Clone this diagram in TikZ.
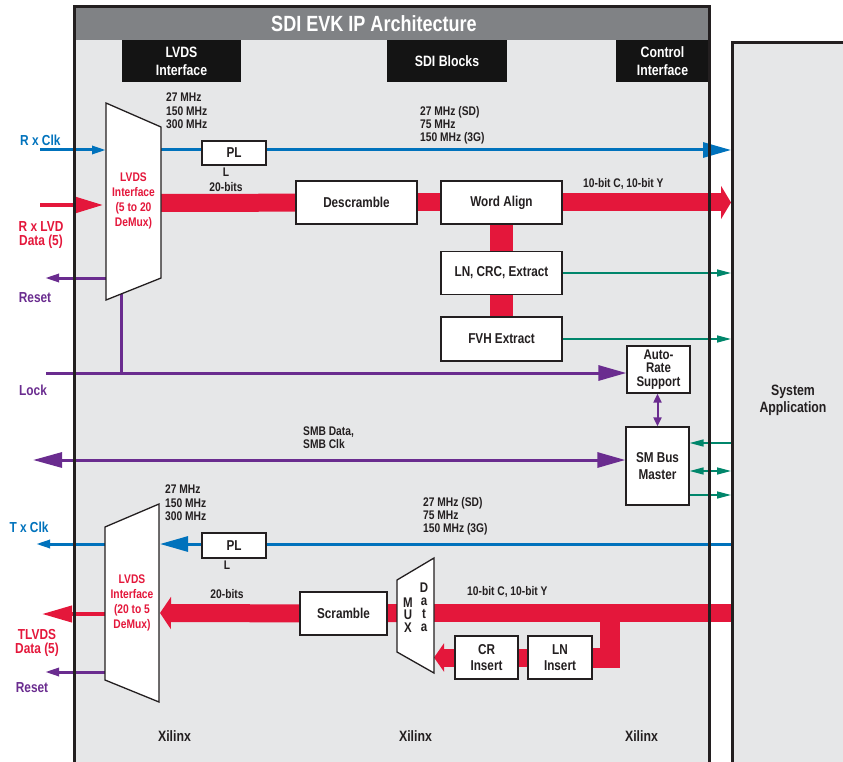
\documentclass[tikz,border=0pt]{standalone}
\usepackage{fontspec}
\setmainfont{Liberation Sans}[FakeStretch=0.82]
\usepackage{xcolor}
\definecolor{sdiblue}{HTML}{0072BC}
\definecolor{sdired}{HTML}{E4173B}
\definecolor{sdipurple}{HTML}{6A2C8F}
\definecolor{sdigreen}{HTML}{00866B}
\definecolor{sdigray}{HTML}{808285}
\definecolor{sdibody}{HTML}{E6E7E8}
\definecolor{sdiink}{HTML}{231F20}
\usetikzlibrary{arrows.meta}
\pgfdeclarelayer{back}
\pgfdeclarelayer{wires}
\pgfsetlayers{back,wires,main}
\newcommand\sdisize[2]{\fontsize{#1}{#2}\selectfont}

\begin{document}
\begin{tikzpicture}[x=1pt, y=-1pt,
    box/.style={draw=sdiink, line width=1.3pt, fill=white, text=sdiink, align=center, inner sep=0pt, minimum width=121pt, minimum height=43pt, font=\bfseries\sdisize{14.3}{16.7}},
    trap/.style={draw=sdiink, line width=1.3pt, fill=white},
    tab/.style={fill=black!92, text=white, align=center, inner sep=0pt, minimum height=42pt, font=\bfseries\sdisize{15}{17.7}},
    lbl/.style={text=sdiink, align=left, inner sep=0pt, font=\bfseries\sdisize{12.5}{13.3}},
    side/.style={align=center, inner sep=0pt, font=\bfseries\sdisize{14.5}{13.5}},
    stack/.style={text=sdiink, align=center, inner sep=0pt, font=\bfseries\sdisize{14}{#1}},
    xil/.style={text=sdiink, font=\bfseries\sdisize{15}{17}},
    clk/.style={sdiblue, line width=3pt},
    bus/.style={sdired, line width=18pt, line join=miter},
    wire/.style={sdired, line width=4pt},
    ctl/.style={sdipurple, line width=3pt},
    sig/.style={sdigreen, line width=1.5pt},
    tipsmall/.style={-{Triangle[length=14pt,width=8pt]}},
    tipbig/.style={-{Triangle[length=28pt,width=15pt]}},
    tipsig/.style={-{Triangle[length=14pt,width=7pt]}}
]
\useasboundingbox (0,0) rectangle (843,762);
\clip (0,0) rectangle (843,762);

\begin{pgfonlayer}{back}
\fill[sdibody] (74,7) rectangle (709,800);
\fill[sdigray] (74,7) rectangle (709,40);
\end{pgfonlayer}
\node[text=white, font=\bfseries\sdisize{22}{24}] (title) at (374,24) {SDI EVK IP Architecture};
\node[tab, minimum width=119pt] (tab-lvds) at (181.5,61) {LVDS\\Interface};
\node[tab, minimum width=120pt] (tab-sdi) at (447,61) {SDI Blocks};
\node[tab, minimum width=93pt] (tab-ctl) at (662.5,61) {Control\\Interface};

\node[draw=sdiink, line width=3pt, fill=sdibody, minimum width=200pt, minimum height=800pt, anchor=north west] (sysapp) at (731,41) {};
\node[text=sdiink, align=center, font=\bfseries\sdisize{15}{16.7}] (sysapp-text) at (793,400) {System\\Application};

\draw[trap] (106,103) -- (161,127) -- (161,278) -- (106,300) -- cycle;
\node[text=sdired, align=center, font=\bfseries\sdisize{12.5}{15}] (rxif) at (133.5,201) {LVDS\\Interface\\(5 to 20\\DeMux)};
\coordinate (rx-clk) at (106,150);
\coordinate (rx-clkout) at (161,150);
\coordinate (rx-data) at (103,205);
\coordinate (rx-out) at (161,203);
\coordinate (rx-rst) at (106,278);
\coordinate (rx-lock) at (121,294);

\draw[trap] (105,527) -- (159,504) -- (159,702) -- (105,680) -- cycle;
\node[text=sdired, align=center, font=\bfseries\sdisize{12.5}{15}] (txif) at (132,603) {LVDS\\Interface\\(20 to 5\\DeMux)};
\coordinate (tx-clk) at (160,544);
\coordinate (tx-clkout) at (105,544);
\coordinate (tx-in) at (160,613);
\coordinate (tx-data) at (105,614);
\coordinate (tx-rst) at (105,672);

\draw[trap] (397,580) -- (434,558) -- (434,673) -- (397,652) -- cycle;
\node[stack=12.5] (mux) at (408,615) {M\\U\\X};
\node[stack=13] (muxdata) at (424,607) {D\\a\\t\\a};
\coordinate (mux-e) at (434,613);
\coordinate (mux-w) at (397,613);

\coordinate (rxclk-src) at (40,150);
\coordinate (rxdata-src) at (40,205);
\coordinate (rst-dst) at (45,278);
\coordinate (lock-src) at (46,373);
\coordinate (smb-end) at (33,460);
\coordinate (txclk-dst) at (36,544);
\coordinate (txdata-dst) at (42,614);
\coordinate (txrst-dst) at (45,672);
\coordinate (tap) at (610,613);

\node[box, minimum width=64pt, minimum height=24pt] (plrx) at (234,153) {PL};
\node[box] (descr) at (356.5,202.5) {Descramble};
\node[box] (walign) at (501.5,202.5) {Word Align};
\node[box] (lncrc) at (501.5,273) {LN, CRC, Extract};
\node[box, minimum height=44pt] (fvh) at (501.5,339) {FVH Extract};
\node[box, minimum width=63pt, minimum height=47pt, font=\bfseries\sdisize{14}{13.5}] (autorate) at (658.5,369.5) {Auto-\\Rate\\Support};
\node[box, minimum width=63pt, minimum height=78pt] (smbus) at (657.5,466) {SM Bus\\Master};
\node[box, minimum width=64pt, minimum height=25pt] (pltx) at (234,545.5) {PL};
\node[box, minimum width=87pt] (scramble) at (343.5,613.5) {Scramble};
\node[box, minimum width=63pt] (crins) at (486.5,657.5) {CR\\Insert};
\node[box, minimum width=64pt] (lnins) at (560,657.5) {LN\\Insert};

\begin{pgfonlayer}{wires}
\draw[clk, tipsmall] (rxclk-src) -- (rx-clk);
\draw[clk] (rx-clkout) -- (plrx.west |- rx-clk);
\draw[clk, tipbig] (plrx.east |- rx-clk) -- (sysapp.west |- rx-clk);
\draw[wire, -{Triangle[length=30pt,width=17pt]}] (rxdata-src) -- (rx-data);
\draw[bus] (rx-out) -- (descr);
\draw[bus] (descr) -- (walign);
\draw[bus, -{Triangle[length=10pt,width=33pt]}] (walign) -- (walign -| sysapp.west);
\draw[bus, line width=23pt] (walign) -- (lncrc);
\draw[bus, line width=23pt] (lncrc) -- (fvh);
\draw[sig, tipsig] (lncrc) -- (lncrc -| sysapp.west);
\draw[sig, tipsig] (fvh) -- (fvh -| sysapp.west);
\draw[ctl, tipsmall] (rx-rst) -- (rst-dst);
\draw[ctl] (rx-lock) -- (rx-lock |- lock-src);
\draw[ctl, tipbig] (lock-src) -- (lock-src -| autorate.west);
\draw[ctl, {Triangle[length=29pt,width=15pt]}-{Triangle[length=28pt,width=15pt]}] (smb-end) -- (smb-end -| smbus.west);
\draw[sdipurple, line width=2pt, {Triangle[length=9pt,width=8pt]}-{Triangle[length=9pt,width=8pt]}] (smbus.north |- autorate.south) -- (smbus.north);
\draw[sig, tipsig] ([yshift=23pt]smbus.east -| sysapp.west) -- ([yshift=23pt]smbus.east);
\draw[sig, {Triangle[length=14pt,width=7pt]}-{Triangle[length=14pt,width=7pt]}] ([yshift=-5pt]smbus.east) -- ([yshift=-5pt]smbus.east -| sysapp.west);
\draw[sig, tipsig] ([yshift=-29pt]smbus.east) -- ([yshift=-29pt]smbus.east -| sysapp.west);

\draw[clk] (sysapp.west |- tx-clk) -- (pltx.east |- tx-clk);
\draw[clk, tipbig] (pltx.west |- tx-clk) -- (tx-clk);
\draw[clk, tipsmall] (tx-clkout) -- (txclk-dst);
\draw[bus] (sysapp.west |- mux-e) -- (mux-e);
\draw[bus] (mux-w) -- (scramble);
\draw[bus, -{Triangle[length=11pt,width=32pt]}] (scramble) -- (tx-in);
\draw[wire, -{Triangle[length=30pt,width=16pt]}] (tx-data) -- (txdata-dst);
\draw[ctl, tipsmall] (tx-rst) -- (txrst-dst);
\draw[bus, line width=20pt] (tap) |- (lnins);
\draw[bus] (lnins) -- (crins);
\draw[bus, -{Triangle[length=10pt,width=28pt]}] (crins) -- (crins -| mux-e);
\end{pgfonlayer}

\node[side, text=sdiblue, anchor=west] (lbl-rxclk) at (20,140) {R x Clk};
\node[side, text=sdired] (lbl-rxdata) at (41,235) {R x LVD\\Data (5)};
\node[side, text=sdipurple] (lbl-rst1) at (35,298) {Reset};
\node[side, text=sdipurple] (lbl-lock) at (33,390) {Lock};
\node[side, text=sdiblue] (lbl-txclk) at (29,527) {T x Clk};
\node[side, text=sdired] (lbl-txdata) at (37,643) {TLVDS\\Data (5)};
\node[side, text=sdipurple] (lbl-rst2) at (32,688) {Reset};

\node[lbl, anchor=north west] (f-rx) at (166,93) {27 MHz\\150 MHz\\300 MHz};
\node[lbl] (l-rx) at (226,172) {L};
\node[lbl] (b-rx) at (226,187) {20-bits};
\node[lbl, anchor=north west] (f-rxsd) at (420,106) {27 MHz (SD)\\75 MHz\\150 MHz (3G)};
\node[lbl, anchor=west] (w-rx) at (583,184) {10-bit C, 10-bit Y};
\node[lbl, anchor=west] (smb-lbl) at (303,438) {SMB Data,\\SMB Clk};
\node[lbl, anchor=north west] (f-tx) at (165,485) {27 MHz\\150 MHz\\300 MHz};
\node[lbl] (l-tx) at (227,565) {L};
\node[lbl] (b-tx) at (227,594) {20-bits};
\node[lbl, anchor=north west] (f-txsd) at (423,497) {27 MHz (SD)\\75 MHz\\150 MHz (3G)};
\node[lbl, anchor=west] (w-tx) at (467,592) {10-bit C, 10-bit Y};

\node[xil] (xil1) at (174.5,736) {Xilinx};
\node[xil] (xil2) at (415.5,736) {Xilinx};
\node[xil] (xil3) at (641.5,736) {Xilinx};

\draw[sdiink, line width=3pt] (74,7) rectangle (709,800);
\end{tikzpicture}
\end{document}
